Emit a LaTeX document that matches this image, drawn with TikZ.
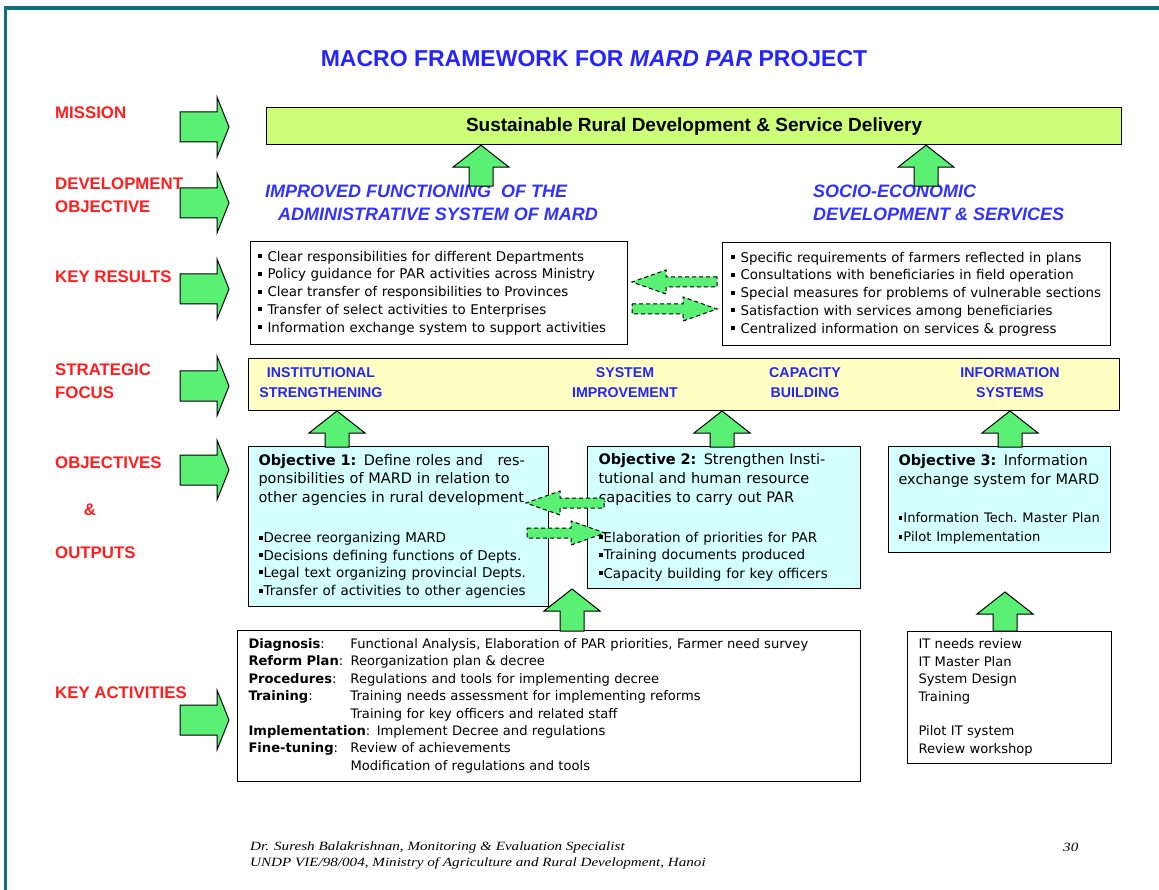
\documentclass[tikz,border=0pt]{standalone}
\usepackage{fontspec}
\setmainfont{DejaVu Sans}
\newfontfamily\headfont{Liberation Sans}
\newfontfamily\footfont[FakeStretch=1.2]{Liberation Serif}
\usetikzlibrary{positioning}

\definecolor{frameteal}{RGB}{16,112,120}
\definecolor{titleblue}{RGB}{36,36,255}
\definecolor{devblue}{RGB}{50,50,255}
\definecolor{labelred}{RGB}{255,30,30}
\definecolor{arrgreen}{RGB}{90,240,115}
\definecolor{missiongreen}{RGB}{204,255,119}
\definecolor{sfyellow}{RGB}{255,255,196}
\definecolor{objcyan}{RGB}{212,255,255}

\newcommand{\px}[2]{\fontsize{#1}{#2}\selectfont}
\newcommand{\sqbul}{\rule[0.22em]{0.3em}{0.3em}\hspace{1pt}}

\tikzset{
  lbl/.style={anchor=west, text=labelred, font=\headfont\px{16.8}{23.5}\bfseries, align=left, inner sep=0},
  devtxt/.style={anchor=west, text=devblue, font=\headfont\px{18}{23}\bfseries\itshape, align=left, inner sep=0},
  sftxt/.style={text=titleblue, font=\headfont\px{14.2}{20}\bfseries, align=center, inner sep=0},
  krbox/.style={draw, line width=1pt, align=left, anchor=north west, minimum height=103, font=\px{13.4}{17.7}},
  objbox/.style={draw, fill=objcyan, line width=1pt, align=left, anchor=north west, inner xsep=10, font=\px{14.5}{18.6}},
  actbox/.style={draw, line width=1pt, align=left, anchor=north west, inner xsep=11, font=\px{13.1}{17.4}},
  foot/.style={anchor=west, inner sep=0, font=\footfont\itshape\px{12.6}{16}},
  blk/.style={fill=arrgreen, draw=black, line width=1pt},
  dashblk/.style={fill=arrgreen, draw=black, line width=1pt, dash pattern=on 4pt off 3pt},
  pics/rarr/.style={code={\filldraw[blk] (0,-15) -- (37,-15) -- (37,-30) -- (49,0) -- (37,30) -- (37,15) -- (0,15) -- cycle;}},
  pics/uparr/.style={code={\filldraw[blk] (0,0) -- (28,22) -- (12,22) -- (12,#1) -- (-12,#1) -- (-12,22) -- (-28,22) -- cycle;}},
  pics/xarr/.style={code={\filldraw[dashblk] (0,-5) -- ({#1-34},-5) -- ({#1-34},-12) -- (#1,0) -- ({#1-34},12) -- ({#1-34},5) -- (0,5) -- cycle;}}
}

\begin{document}
\begin{tikzpicture}[x=1pt,y=-1pt]
  \fill[white] (0,0) rectangle (1159,890);
  \useasboundingbox (0,0) rectangle (1159,890);
  \draw[frameteal, line width=3.5pt] (5.5,890) -- (5.5,8) -- (1159,8);

  % Title
  \node[text=titleblue, font=\headfont\px{23}{26}\bfseries] (title) at (594,59) {MACRO FRAMEWORK FOR \textit{MARD PAR} PROJECT};

  % Row labels
  \node[lbl] (lmission) at (55,113) {MISSION};
  \node[lbl] (ldev) at (55,195) {DEVELOPMENT\\OBJECTIVE};
  \node[lbl] (lkr) at (55,277) {KEY RESULTS};
  \node[lbl] (lsf) at (55,381) {STRATEGIC\\FOCUS};
  \node[lbl] (lobj) at (55,463) {OBJECTIVES};
  \node[lbl, anchor=center] (lamp) at (90,510) {\&};
  \node[lbl] (lout) at (55,553) {OUTPUTS};
  \node[lbl] (lka) at (55,693) {KEY ACTIVITIES};

  \pic at (180,127) {rarr};
  \pic at (180,203) {rarr};
  \pic at (180,289) {rarr};
  \pic at (180,386) {rarr};
  \pic at (180,470) {rarr};
  \pic at (180,720) {rarr};

  % Mission and development objectives
  \node[draw, fill=missiongreen, line width=1.2pt, minimum width=855, minimum height=37, anchor=north west, font=\headfont\px{19}{22}\bfseries] (mission) at (266,107) {Sustainable Rural Development \& Service Delivery};
  \node[devtxt] (devadm) at (265,203) {IMPROVED FUNCTIONING\ \ OF THE\\\hspace*{13pt}ADMINISTRATIVE SYSTEM OF MARD};
  \node[devtxt] (devsoc) at (813,203) {SOCIO-ECONOMIC\\DEVELOPMENT \& SERVICES};

  % Key results
  \node[krbox, text width=363, inner xsep=7] (krl) at (250,241) {\sqbul\hspace{5pt}Clear responsibilities for different Departments\\\sqbul\hspace{5pt}Policy guidance for PAR activities across Ministry\\\sqbul\hspace{5pt}Clear transfer of responsibilities to Provinces\\\sqbul\hspace{5pt}Transfer of select activities to Enterprises\\\sqbul\hspace{5pt}Information exchange system to support activities};
  \node[krbox, text width=372, inner xsep=8] (krr) at (722,242) {\sqbul\hspace{5pt}Specific requirements of farmers reflected in plans\\\sqbul\hspace{5pt}Consultations with beneficiaries in field operation\\\sqbul\hspace{5pt}Special measures for problems of vulnerable sections\\\sqbul\hspace{5pt}Satisfaction with services among beneficiaries\\\sqbul\hspace{5pt}Centralized information on services \& progress};

  % Strategic focus
  \node[draw, fill=sfyellow, line width=1pt, minimum width=871, minimum height=52, anchor=north west] (sf) at (248,358) {};
  \node[sftxt] (sfinst) at (321,383) {INSTITUTIONAL\\STRENGTHENING};
  \node[sftxt] (sfsys) at (625,383) {SYSTEM\\IMPROVEMENT};
  \node[sftxt] (sfcap) at (805,383) {CAPACITY\\BUILDING};
  \node[sftxt] (sfinfo) at (1010,383) {INFORMATION\\SYSTEMS};

  % Objectives and outputs
  \node[objbox, text width=280, minimum height=160] (obj1) at (248,446) {\textbf{Objective 1:} Define roles and\ \ \ res-\\ponsibilities of MARD in relation to\\other agencies in rural development\\[23pt]\px{13.5}{17.3}\sqbul Decree reorganizing MARD\\\sqbul Decisions defining functions of Depts.\\\sqbul Legal text organizing provincial Depts.\\\sqbul Transfer of activities to other agencies};
  \node[objbox, text width=251, inner xsep=11, minimum height=142] (obj2) at (587,446) {\textbf{Objective 2:} Strengthen Insti-\\tutional and human resource\\capacities to carry out PAR\\[23pt]\px{13.5}{17.3}\sqbul Elaboration of priorities for PAR\\\sqbul Training documents produced\\\sqbul Capacity building for key officers};
  \node[objbox, text width=208, inner xsep=7, minimum height=106] (obj3) at (888,446) {\hspace*{3pt}\textbf{Objective 3:} Information\\\hspace*{3pt}exchange system for MARD\\[21pt]\px{13.1}{17.3}\hspace*{3pt}\sqbul Information Tech.\ Master Plan\\\hspace*{3pt}\sqbul Pilot Implementation};

  % Key activities
  \node[actbox, text width=601, minimum height=151] (acts) at (237,630) {\begin{tabular}{@{}p{102pt}@{}l@{}}
    \textbf{Diagnosis}: & Functional Analysis, Elaboration of PAR priorities, Farmer need survey\\
    \textbf{Reform Plan}: & Reorganization plan \& decree\\
    \textbf{Procedures}: & Regulations and tools for implementing decree\\
    \textbf{Training}: & Training needs assessment for implementing reforms\\
     & Training for key officers and related staff\\
    \multicolumn{2}{@{}l@{}}{\textbf{Implementation}: Implement Decree and regulations}\\
    \textbf{Fine-tuning}: & Review of achievements\\
     & Modification of regulations and tools
  \end{tabular}};
  \node[actbox, text width=182, minimum height=132] (itacts) at (907,631) {IT needs review\\IT Master Plan\\System Design\\Training\\[17.4pt]Pilot IT system\\Review workshop};

  % Block arrows between boxes
  \pic at (481,0 |- mission.south) {uparr=41};
  \pic at (926,0 |- mission.south) {uparr=41};
  \pic at (337,0 |- sf.south) {uparr=36};
  \pic at (722,0 |- sf.south) {uparr=36};
  \pic at (1010,0 |- sf.south) {uparr=36};
  \pic at (572,0 |- obj2.south) {uparr=42};
  \pic at (1005,592) {uparr=39};

  \pic[xscale=-1] at (717,282) {xarr=85};
  \pic at (632,309) {xarr=85};
  \pic[xscale=-1] at (604,503) {xarr=78};
  \pic at (527,533) {xarr=78};

  % Footer
  \node[foot] (f1) at (250,847) {Dr. Suresh Balakrishnan, Monitoring \& Evaluation Specialist};
  \node[foot] (f2) at (250,863) {UNDP VIE/98/004, Ministry of Agriculture and Rural Development, Hanoi};
  \node[foot] (pg) at (1063,847) {30};
\end{tikzpicture}
\end{document}
